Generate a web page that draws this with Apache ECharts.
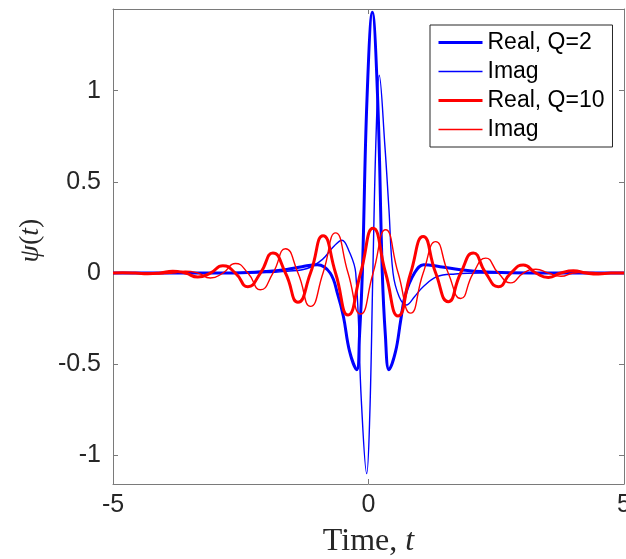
<!DOCTYPE html>
<html>
<head>
<meta charset="utf-8">
<script src="https://cdn.jsdelivr.net/npm/echarts@6/dist/echarts.min.js"></script>
<style>
  html, body { margin: 0; padding: 0; background: #fff; }
  #chart { width: 626px; height: 559px; }
</style>
</head>
<body>
<div id="chart"></div>
<script>
// Q = 2 wavelet: real part (thick) and imaginary part (thin)
const tQ2Real = [-5, -3.2, -2.5, -2.0, -1.6, -1.3, -1.0, -0.75, -0.6, -0.49, -0.37, -0.23, -0.175, -0.12, -0.03, 0.075, 0.18, 0.27, 0.33, 0.40, 0.53, 0.63, 0.72, 0.9, 1.08, 1.4, 1.8, 2.3, 3.2, 5];
const realQ2  = [0, 0, 0.002, 0.008, 0.02, 0.035, 0.046, 0, -0.12, -0.24, -0.43, -0.53, -0.34, 0, 0.95, 1.43, 0.95, 0, -0.34, -0.53, -0.43, -0.26, -0.12, 0, 0.046, 0.035, 0.018, 0.006, 0, 0];

const tQ2Imag = [-5, -3, -2.0, -1.6, -1.2, -0.9, -0.7, -0.52, -0.38, -0.25, -0.14, -0.035, 0.025, 0.085, 0.15, 0.21, 0.32, 0.4, 0.48, 0.6, 0.74, 0.9, 1.07, 1.34, 1.7, 2.2, 3, 5];
const imagQ2  = [0, 0, 0.002, 0.01, 0.025, 0.075, 0.14, 0.18, 0.12, 0, -0.7, -1.1, -0.78, 0, 0.77, 1.085, 0.7, 0.35, 0, -0.13, -0.175, -0.13, -0.075, -0.02, -0.005, 0, 0, 0];

// Q = 10 wavelet, sampled at its extrema and zero crossings
const tQ10 = [-5, -4.81, -4.565, -4.32, -4.075, -3.83, -3.585, -3.34, -3.095, -2.85, -2.605, -2.36, -2.115, -1.87, -1.625, -1.38, -1.135, -0.89, -0.645, -0.4, -0.155, 0.09, 0.335, 0.58, 0.825, 1.07, 1.315, 1.56, 1.805, 2.05, 2.295, 2.54, 2.785, 3.03, 3.275, 3.52, 3.765, 4.01, 4.255, 4.5, 4.745, 5];
const realQ10 = [0, 0.001, 0, -0.004, 0, 0.01, 0, -0.022, 0, 0.04, 0, -0.075, 0, 0.11, 0, -0.16, 0, 0.205, 0, -0.23, 0, 0.245, 0, -0.235, 0, 0.2, 0, -0.157, 0, 0.11, 0, -0.075, 0, 0.044, 0, -0.024, 0, 0.012, 0, -0.005, 0, 0];
const imagQ10 = [0, 0, 0.002, 0, -0.004, 0, 0.01, 0, -0.027, 0, 0.052, 0, -0.092, 0, 0.133, 0, -0.183, 0, 0.22, 0, -0.225, 0, 0.237, 0, -0.22, 0, 0.172, 0, -0.14, 0, 0.082, 0, -0.054, 0, 0.021, 0, -0.018, 0, 0.005, 0, -0.002, 0];

const xTicks = [-5, 0, 5];
const yTicks = [-1, -0.5, 0, 0.5, 1];

const pairs = (ts, vs) => ts.map((t, i) => [t, vs[i]]);

const axisColor = '#7a7a7a';
const textColor = '#262626';
const sans = '"Liberation Sans", Arial, Helvetica, sans-serif';
const serif = '"Liberation Serif", "Times New Roman", serif';
const thick = 3;
const thin = 1.4;

const frameLine = { show: true, onZero: false, lineStyle: { color: axisColor, width: 1 } };
const innerTick = { show: true, inside: true, length: 5, lineStyle: { color: axisColor, width: 1 } };

const chart = echarts.init(document.getElementById('chart'), null, { renderer: 'canvas' });

chart.setOption({
  animation: false,
  backgroundColor: '#fff',
  grid: { left: 113, top: 9, right: 2, bottom: 75, containLabel: false, outerBoundsMode: 'none' },
  xAxis: [
    {
      type: 'value', min: -5, max: 5, interval: 5, position: 'bottom',
      axisLine: frameLine,
      axisTick: Object.assign({ customValues: xTicks }, innerTick),
      axisLabel: { customValues: xTicks, fontSize: 25, color: textColor, fontFamily: sans, margin: 9 },
      splitLine: { show: false },
      name: '{r|Time, }{i|t}',
      nameLocation: 'middle',
      nameGap: 42,
      nameTextStyle: {
        fontSize: 32, color: textColor, fontFamily: serif,
        rich: {
          r: { fontSize: 32, color: textColor, fontFamily: serif },
          i: { fontSize: 32, color: textColor, fontFamily: serif, fontStyle: 'italic' }
        }
      }
    },
    {
      type: 'value', min: -5, max: 5, interval: 5, position: 'top',
      axisLine: frameLine,
      axisTick: Object.assign({ customValues: xTicks }, innerTick),
      axisLabel: { show: false },
      splitLine: { show: false }
    }
  ],
  yAxis: [
    {
      type: 'value', min: -1.157, max: 1.448, position: 'left',
      axisLine: frameLine,
      axisTick: Object.assign({ customValues: yTicks }, innerTick),
      axisLabel: { customValues: yTicks, fontSize: 25, color: textColor, fontFamily: sans, margin: 12 },
      splitLine: { show: false },
      name: '{i|ψ}{r|(}{i|t}{r|)}',
      nameLocation: 'middle',
      nameGap: 68,
      nameTextStyle: {
        fontSize: 28, color: textColor, fontFamily: serif,
        padding: [0, 0, 0, 12],
        rich: {
          r: { fontSize: 28, color: textColor, fontFamily: serif },
          i: { fontSize: 28, color: textColor, fontFamily: serif, fontStyle: 'italic' }
        }
      }
    },
    {
      type: 'value', min: -1.157, max: 1.448, position: 'right',
      axisLine: frameLine,
      axisTick: Object.assign({ customValues: yTicks }, innerTick),
      axisLabel: { show: false },
      splitLine: { show: false }
    }
  ],
  legend: {
    orient: 'vertical',
    left: 430, top: 25,
    padding: [6, 8, 6, 7],
    itemGap: 6,
    itemWidth: 44,
    itemHeight: 14,
    borderColor: '#262626',
    borderWidth: 1,
    borderRadius: 0,
    backgroundColor: '#fff',
    itemStyle: { opacity: 0 },
    textStyle: { fontSize: 23, color: '#000', fontFamily: sans },
    formatter: name => name.startsWith('Imag') ? 'Imag' : name,
    data: [
      { name: 'Real, Q=2', lineStyle: { width: thick } },
      { name: 'Imag, Q=2', lineStyle: { width: thin } },
      { name: 'Real, Q=10', lineStyle: { width: thick } },
      { name: 'Imag, Q=10', lineStyle: { width: thin } }
    ]
  },
  series: [
    {
      name: 'Real, Q=2', type: 'line', data: pairs(tQ2Real, realQ2),
      symbol: 'none', smooth: 0.4,
      lineStyle: { color: '#0000ff', width: thick }, itemStyle: { color: '#0000ff' }
    },
    {
      name: 'Imag, Q=2', type: 'line', data: pairs(tQ2Imag, imagQ2),
      symbol: 'none', smooth: 0.4,
      lineStyle: { color: '#0000ff', width: thin }, itemStyle: { color: '#0000ff' }
    },
    {
      name: 'Real, Q=10', type: 'line', data: pairs(tQ10, realQ10),
      symbol: 'none', smooth: 0.55,
      lineStyle: { color: '#ff0000', width: thick }, itemStyle: { color: '#ff0000' }
    },
    {
      name: 'Imag, Q=10', type: 'line', data: pairs(tQ10, imagQ10),
      symbol: 'none', smooth: 0.55,
      lineStyle: { color: '#ff0000', width: thin }, itemStyle: { color: '#ff0000' }
    }
  ]
});
</script>
</body>
</html>
